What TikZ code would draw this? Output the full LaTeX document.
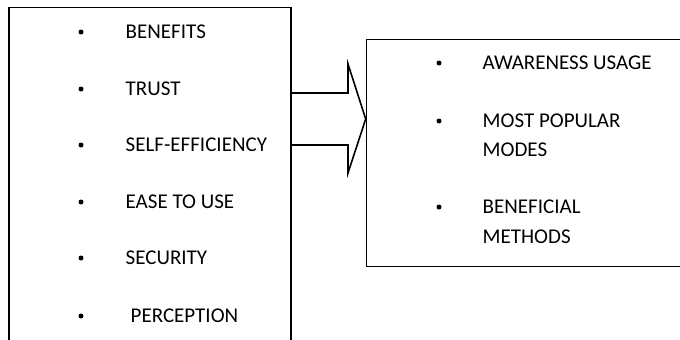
\documentclass[tikz,border=0pt]{standalone}
\usepackage{fontspec}
\setmainfont{Carlito}
\begin{document}
\begin{tikzpicture}[x=1pt,y=-1pt,
  boxstyle/.style={draw, line width=1.6pt, rectangle, inner sep=0pt},
  item/.style={anchor=base west, inner sep=0pt, font=\fontsize{21}{25}\selectfont},
  dotmark/.style={fill, circle, inner sep=0pt, minimum size=5pt},
  arrowline/.style={line width=1.6pt, line join=miter}]
\clip (0,0) rectangle (680,340);
\fill[white] (0,0) rectangle (680,340);
% boxes
\node[boxstyle, minimum width=282pt, minimum height=342pt] (L) at (150,178.5) {};
\node[boxstyle, minimum width=334pt, minimum height=227pt] (R) at (533.5,153) {};
% left items
\foreach \n/\yy/\xx/\t in {b1/32/125.5/BENEFITS, b2/89/125.5/TRUST, b3/145/125.5/SELF-EFFICIENCY, b4/202/125.5/EASE TO USE, b5/258/125.5/SECURITY, b6/316/130.5/PERCEPTION}{
  \node[dotmark] (d\n) at (81,\yy) {};
  \node[item] (t\n) at (\xx,\yy+6.6) {\t};
}
% right items
\node[dotmark] (dr1) at (439,63) {};
\node[item] (tr1) at (482.5,69.6) {AWARENESS USAGE};
\node[dotmark] (dr2) at (439,121) {};
\node[item] (tr2) at (482.5,127.6) {MOST POPULAR};
\node[item] (tr2b) at (482.5,156.6) {MODES};
\node[dotmark] (dr3) at (439,207) {};
\node[item] (tr3) at (482.5,213.6) {BENEFICIAL};
\node[item] (tr3b) at (482.5,243.6) {METHODS};
% block arrow from L to R
\coordinate (st) at (L.east |- 0,93);
\coordinate (sb) at (L.east |- 0,145);
\coordinate (tip) at (R.west |- 0,119);
\draw[arrowline] (st) -- (348,93) -- (348,64) -- (tip) -- (348,173) -- (348,145) -- (sb);
\end{tikzpicture}
\end{document}
